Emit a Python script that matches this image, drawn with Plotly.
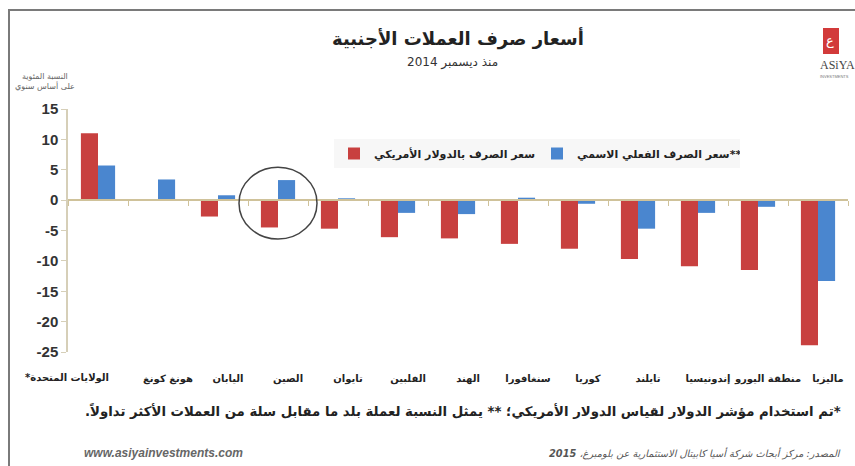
import plotly.graph_objects as go

RLM = "\u200f"

categories = [
    RLM + "الولايات المتحدة*" + RLM, "هونغ كونغ", "اليابان", "الصين", "تايوان", "الفلبين",
    "الهند", "سنغافورا", "كوريا", "تايلند", "إندونيسيا", "منطقة اليورو", "ماليزيا",
]
usd_rate = [11.0, 0.0, -2.7, -4.5, -4.7, -6.1, -6.3, -7.2, -8.0, -9.7, -10.9, -11.5, -23.9]
neer_rate = [5.7, 3.4, 0.8, 3.3, 0.3, -2.1, -2.3, 0.4, -0.6, -4.7, -2.1, -1.1, -13.3]
y_ticks = [15, 10, 5, 0, -5, -10, -15, -20, -25]
y_tick_text = ["15", "10", "5", "0", "-5", "-10", "-15", "-20", "-25"]

name_usd = "سعر الصرف بالدولار الأمريكي"
name_neer = RLM + "**سعر الصرف الفعلي الاسمي"

RED = "#c8403f"
BLUE = "#4a86cf"
AR = "DejaVu Sans"

# plot area in pixels: x 68..848, y 109..352
L, R, T, B = 68, 848, 109, 352
W, H = 855, 466


def px(x):
    return (x - L) / (R - L)


def py(y):
    return (B - y) / (B - T)


fig = go.Figure()
fig.add_trace(go.Bar(x=categories, y=usd_rate, name=name_usd, marker_color=RED,
                     marker_line_width=0))
fig.add_trace(go.Bar(x=categories, y=neer_rate, name=name_neer, marker_color=BLUE,
                     marker_line_width=0))
# invisible trace driving the zero-line axis with tick marks
fig.add_trace(go.Scatter(x=categories, y=[0] * len(categories), xaxis="x2", mode="lines",
                         line=dict(width=0), showlegend=False, hoverinfo="skip"))

label_font = dict(family=AR, size=10, color="#222", weight="bold")

fig.update_layout(
    width=W, height=H,
    margin=dict(l=L, r=W - R, t=T, b=H - B),
    paper_bgcolor="white", plot_bgcolor="white",
    barmode="group", bargap=0.43, bargroupgap=0.0,
    font=dict(family=AR, color="#222"),
    showlegend=True,
    legend=dict(
        orientation="h", x=px(334), y=py(139), xanchor="left", yanchor="top",
        bgcolor="#f7f7f7", font=dict(family=AR, size=11, color="#222", weight="bold"),
        entrywidth=158, itemwidth=30, traceorder="normal",
    ),
    xaxis=dict(
        type="category", showline=False, ticks="", showgrid=False, zeroline=False,
        tickangle=0, tickvals=categories[1:], ticktext=categories[1:],
        tickfont=label_font, ticklabelshift=10,
        ticklabelstandoff=19, range=[-0.5, len(categories) - 0.5],
    ),
    xaxis2=dict(
        type="category", overlaying="x", anchor="free", side="bottom",
        position=(0 - (-25)) / (15 - (-25)), matches="x",
        showline=True, linecolor="#cfc29a", linewidth=1.5,
        ticks="outside", tickson="boundaries", ticklen=5, tickcolor="#cfc29a",
        showticklabels=False, showgrid=False,
    ),
    yaxis=dict(
        range=[-25, 15], tickvals=y_ticks, ticktext=y_tick_text,
        showgrid=False, zeroline=False,
        showline=True, linecolor="#d6cfb8", linewidth=1.5,
        ticks="outside", ticklen=5, tickcolor="#d6cfb8",
        tickfont=dict(family="Liberation Sans", size=15, color="#333", weight="bold"),
    ),
)

# first category label (wider than its slot, drawn to the left as in the original)
fig.add_annotation(xref="x", yref="paper", x=categories[0], y=py(378), xshift=-31,
                   text=categories[0], showarrow=False, xanchor="center", yanchor="middle",
                   font=label_font)

ann = [
    dict(text="أسعار صرف العملات الأجنبية", x=px(458), y=py(38),
         font=dict(family=AR, size=18, color="#222", weight="bold")),
    dict(text=RLM + "منذ ديسمبر 2014", x=px(452), y=py(62),
         font=dict(family=AR, size=12, color="#333")),
    dict(text="النسبة المئوية<br>على أساس سنوي", x=px(45), y=py(81),
         font=dict(family=AR, size=8, color="#666")),
    dict(text=RLM + "*تم استخدام مؤشر الدولار لقياس الدولار الأمريكي؛ ** يمثل النسبة لعملة بلد ما مقابل سلة من العملات الأكثر تداولاً." + RLM,
         x=px(843), y=py(411), xanchor="right",
         font=dict(family=AR, size=13.3, color="#222", weight="bold")),
    dict(text=RLM + "<i>المصدر: مركز أبحاث شركة أسيا كابيتال الاستثمارية عن بلومبرغ، <b>2015</b></i>",
         x=px(843), y=py(453), xanchor="right",
         font=dict(family=AR, size=9.8, color="#555")),
    dict(text="<b><i>www.asiyainvestments.com</i></b>", x=px(82), y=py(453), xanchor="left",
         font=dict(family="Liberation Sans", size=12, color="#666")),
    dict(text="ASiYA", x=px(818), y=py(65), xanchor="left",
         font=dict(family="Liberation Serif", size=12, color="#444")),
    dict(text="INVESTMENTS", x=px(818), y=py(76), xanchor="left",
         font=dict(family="Liberation Sans", size=4, color="#777")),
    dict(text="ع", x=px(830), y=py(41),
         font=dict(family=AR, size=13, color="white")),
]
for a in ann:
    a.setdefault("xanchor", "center")
    fig.add_annotation(xref="paper", yref="paper", showarrow=False, yanchor="middle", **a)

# outer frame (cropped at right and bottom)
fig.add_shape(type="rect", xref="paper", yref="paper",
              x0=px(9), x1=px(870), y0=py(480), y1=py(10),
              line=dict(color="#7a7a7a", width=2), fillcolor="rgba(0,0,0,0)", layer="below")
# logo square
fig.add_shape(type="rect", xref="paper", yref="paper",
              x0=px(823), x1=px(839), y0=py(54), y1=py(28),
              line=dict(width=0), fillcolor="#d23a3a")
# highlight circle around China
fig.add_shape(type="circle", xref="x", yref="y",
              x0=2.35, x1=3.65, y0=-6.4, y1=5.4,
              line=dict(color="#444", width=1.5))

fig.write_html("out.html")
